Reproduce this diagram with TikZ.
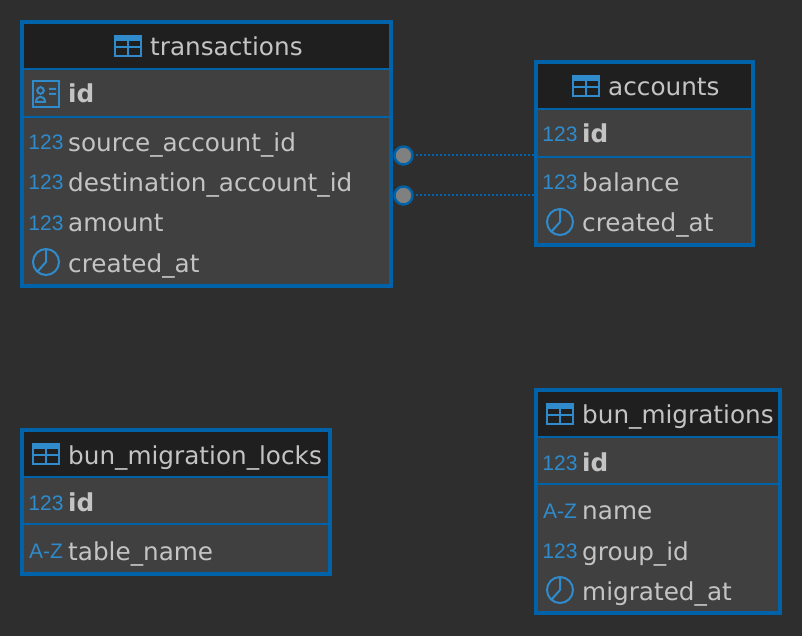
\documentclass[tikz,border=0pt]{standalone}
\usepackage{fontspec}
\setmainfont{DejaVu Sans}
\newfontfamily\kindfont{Liberation Sans}
\usetikzlibrary{positioning}

\definecolor{canvascol}{HTML}{2E2E2E}
\definecolor{headcol}{HTML}{1F1F1F}
\definecolor{rowcol}{HTML}{404040}
\definecolor{framecol}{HTML}{0062A8}
\definecolor{iconcol}{HTML}{2F8BCB}
\definecolor{labelcol}{HTML}{C4C4C4}

\tikzset{
  tablebox/.style={anchor=north west, fill=rowcol, inner sep=0pt, outer sep=0pt},
  field/.style={anchor=base west, inner sep=0pt, text=labelcol, font=\fontsize{24.7}{28}\selectfont},
  keyfield/.style={field, font=\fontsize{24.7}{28}\selectfont\bfseries},
  kind/.style={anchor=base, inner sep=0pt, text=iconcol, font=\kindfont\fontsize{21}{24}\selectfont},
  rowline/.style={draw=framecol, line width=2pt},
  relation/.style={draw=framecol, line width=2pt, dash pattern=on 2pt off 2pt, shorten <=2pt},
  enddot/.style={circle, draw=framecol, fill=gray, line width=2.4pt, minimum size=18pt, inner sep=0pt},
  tableicon/.pic={
    \draw[iconcol, line width=2.4pt] (-13,-10) rectangle (13,10) (0,-10) -- (0,10) (-13,1) -- (13,1);
    \fill[iconcol] (-14,-11) rectangle (14,-5);
  },
  clockicon/.pic={
    \draw[iconcol, line width=2pt] (0,0) circle (13) (0,-13) -- (0,0) -- (-8.5,9.5);
  },
  cardicon/.pic={
    \draw[iconcol, line width=2.2pt] (-13,-13) rectangle (13,13);
    \draw[iconcol, line width=2pt] (-5.5,-3.5) circle (3.3)
      (-10,8) .. controls (-10,1) and (-1,1) .. (-1,8) -- cycle
      (3,-5) -- (10,-5) (3,0) -- (10,0);
  }
}

% frame with title band and the line under the key row
\newcommand{\tableframe}[6]{
  \node[tablebox, minimum width=#4pt, minimum height=#5pt] (#1) at (#2,#3) {};
  \fill[headcol] (#1.north west) rectangle ([xshift=#4pt, yshift=-46pt]#1.north west);
  \draw[rowline] ([yshift=-47pt]#1.north west) -- ([xshift=#4pt, yshift=-47pt]#1.north west);
  \draw[rowline] ([yshift=-#6pt]#1.north west) -- ([xshift=#4pt, yshift=-#6pt]#1.north west);
  \draw[framecol, line width=4pt] (#1.north west) rectangle (#1.south east);
}

\begin{document}
\begin{tikzpicture}[x=1pt, y=-1pt]
  \fill[canvascol] (0,0) rectangle (802,636);
  \useasboundingbox (0,0) rectangle (802,636);

  \tableframe{transactions}{22}{22}{369}{264}{95}
  \tableframe{accounts}{536}{62}{217}{183}{95}
  \tableframe{locks}{22}{430}{308}{144}{94}
  \tableframe{migrations}{536}{390}{244}{223}{94}

  % transactions
  \pic at (128,46) {tableicon};
  \node[field] (ttitle) at (150,56) {transactions};
  \pic at (46,94) {cardicon};
  \node[keyfield] (tid) at (68,103) {id};
  \node[kind] (tk1) at (46,150) {123};
  \node[field] (tsource) at (68,152) {source\_account\_id};
  \node[kind] (tk2) at (46,190) {123};
  \node[field] (tdest) at (68,192) {destination\_account\_id};
  \node[kind] (tk3) at (46,230) {123};
  \node[field] (tamount) at (68,232) {amount};
  \pic at (46,262) {clockicon};
  \node[field] (tcreated) at (68,272) {created\_at};

  % accounts
  \pic at (586,86) {tableicon};
  \node[field] (atitle) at (608,96) {accounts};
  \node[kind] (ak1) at (560,142) {123};
  \node[keyfield] (aid) at (582,143) {id};
  \node[kind] (ak2) at (560,190) {123};
  \node[field] (abalance) at (582,192) {balance};
  \pic at (560,222) {clockicon};
  \node[field] (acreated) at (582,232) {created\_at};

  % bun_migration_locks
  \pic at (46,454) {tableicon};
  \node[field] (ltitle) at (68,464) {bun\_migration\_locks};
  \node[kind] (lk1) at (46,510) {123};
  \node[keyfield] (lid) at (68,511) {id};
  \node[kind] (lk2) at (46,558) {A-Z};
  \node[field] (lname) at (68,560) {table\_name};

  % bun_migrations
  \pic at (560,414) {tableicon};
  \node[field] (mtitle) at (582,423) {bun\_migrations};
  \node[kind] (mk1) at (560,470) {123};
  \node[keyfield] (mid) at (582,471) {id};
  \node[kind] (mk2) at (560,518) {A-Z};
  \node[field] (mname) at (582,519) {name};
  \node[kind] (mk3) at (560,558) {123};
  \node[field] (mgroup) at (582,560) {group\_id};
  \pic at (560,590) {clockicon};
  \node[field] (mmigrated) at (582,600) {migrated\_at};

  \node[enddot] (srcdot) at (403.5,155.5) {};
  \node[enddot] (dstdot) at (403.5,195.5) {};
  \draw[relation] (srcdot) -- (srcdot -| accounts.west);
  \draw[relation] (dstdot) -- (dstdot -| accounts.west);
\end{tikzpicture}
\end{document}
